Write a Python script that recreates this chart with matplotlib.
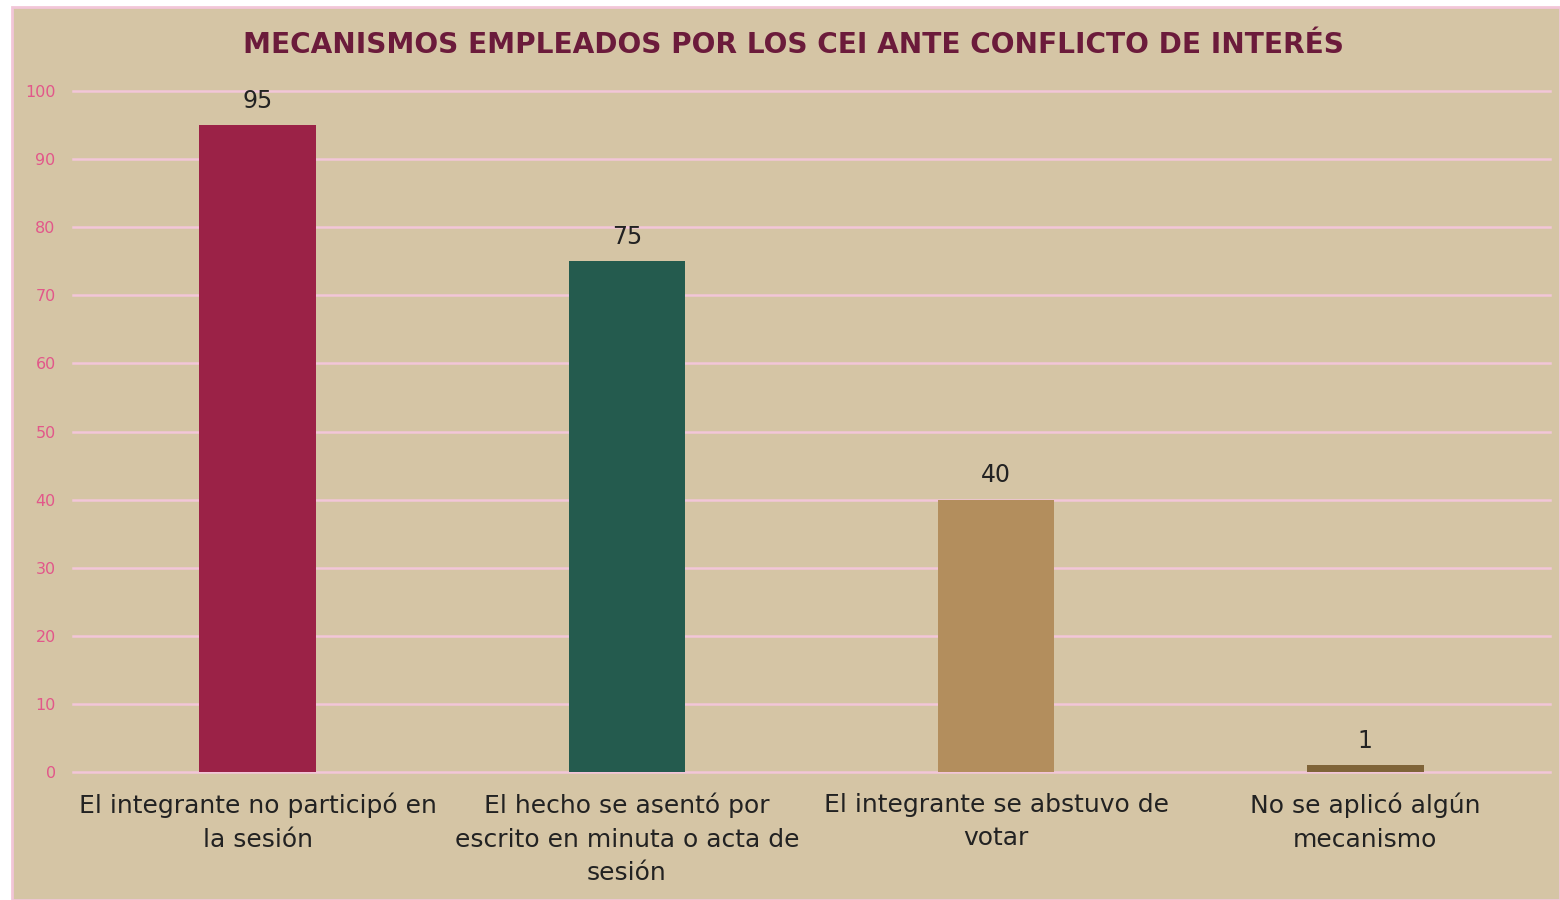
import matplotlib
matplotlib.use("Agg")
import matplotlib.pyplot as plt
from matplotlib.patches import Rectangle

categories = [
    "El integrante no participó en\nla sesión",
    "El hecho se asentó por\nescrito en minuta o acta de\nsesión",
    "El integrante se abstuvo de\nvotar",
    "No se aplicó algún\nmecanismo",
]
values = [95, 75, 40, 1]
bar_colors = ["#9B2247", "#245B4E", "#B38E5D", "#7F6438"]
yticks = [0, 10, 20, 30, 40, 50, 60, 70, 80, 90, 100]
title = "MECANISMOS EMPLEADOS POR LOS CEI ANTE CONFLICTO DE INTERÉS"

W, H = 1560, 900
fig = plt.figure(figsize=(W / 100, H / 100), dpi=100)
fig.patch.set_facecolor("white")

bg = Rectangle((11.5 / W, 0), 1 - 11.5 / W, 1 - 6.5 / H, transform=fig.transFigure,
               facecolor="#D5C5A5", edgecolor="#F2C6D8", linewidth=2, zorder=-10)
fig.patches.append(bg)

# axes: x from 73 to 1550 px, y 0 at 772 px, 100 at 91 px
ppu = (772 - 91) / 100.0
ytop = 101.5
ax_top_px = 772 - ytop * ppu
ax = fig.add_axes([73 / W, 1 - 772 / H, (1550 - 73) / W, (772 - ax_top_px) / H])
ax.set_facecolor("none")
ax.patch.set_alpha(0)

x = list(range(len(categories)))
ax.bar(x, values, width=0.315, color=bar_colors, zorder=3)
ax.set_xlim(-0.5, len(categories) - 0.5)
ax.set_ylim(0, ytop)

ax.set_yticks(yticks)
ax.set_yticklabels([str(t) for t in yticks], color="#E2578A", fontsize=11.5)
ax.tick_params(axis="y", length=0, pad=12.5)
ax.set_xticks(x)
ax.set_xticklabels(categories, fontsize=18, color="#222222", linespacing=1.5)
ax.tick_params(axis="x", length=0, pad=15)

ax.yaxis.grid(True, color="#F2C6D8", linewidth=1.8, zorder=1)
for gl in ax.get_ygridlines():
    gl.set_clip_on(False)
ax.set_axisbelow(True)
for s in ax.spines.values():
    s.set_visible(False)

for xi, v in zip(x, values):
    ax.text(xi, v + 3.6, str(v), ha="center", va="center", fontsize=17, color="#222222")

fig.text(793 / W, 1 - 45 / H, title, ha="center", va="center", fontsize=20.2,
         fontweight="bold", color="#6B1B3B")

fig.savefig("out.png", dpi=100, facecolor=fig.get_facecolor())
